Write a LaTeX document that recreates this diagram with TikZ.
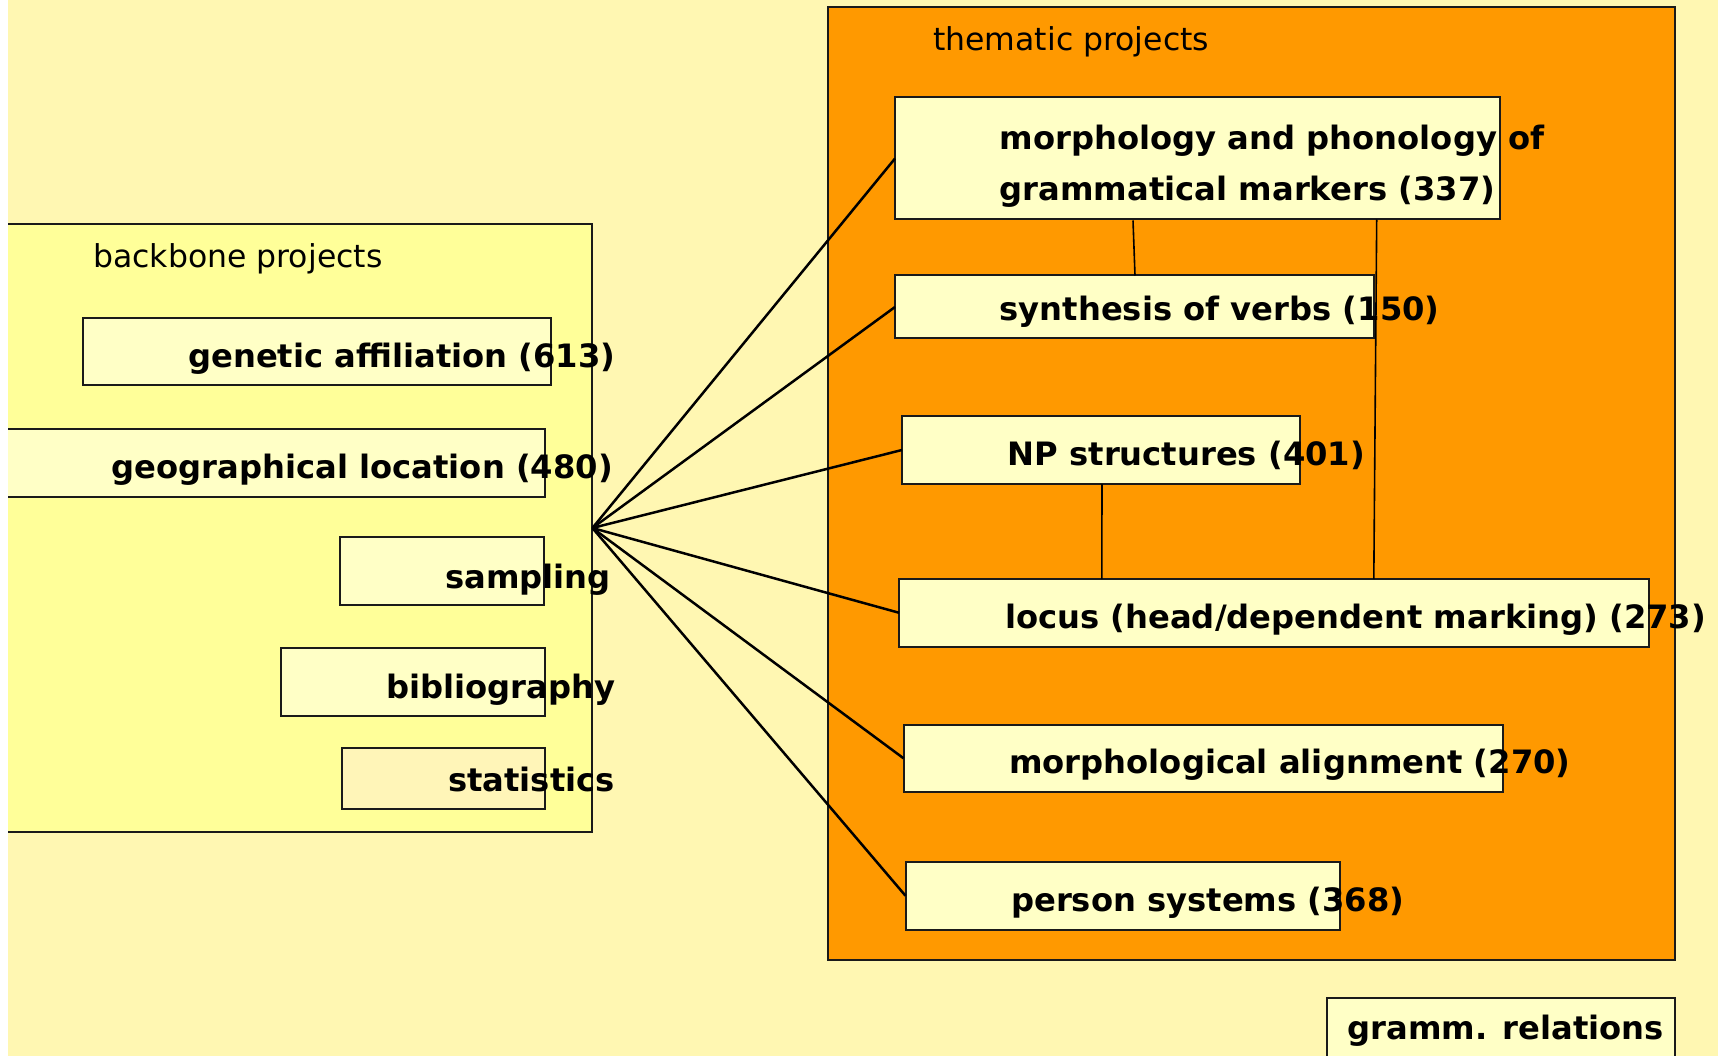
\documentclass[tikz,border=0pt]{standalone}
\usepackage{fontspec}
\setmainfont{DejaVu Sans}
\usetikzlibrary{calc}
\definecolor{bg}{HTML}{FFF7B2}
\definecolor{backfill}{HTML}{FFFF99}
\definecolor{boxfill}{HTML}{FFFFC6}
\definecolor{statfill}{HTML}{FFF5B8}
\definecolor{orangefill}{HTML}{FF9900}
\definecolor{edge}{HTML}{1A1A1A}
\begin{document}
\begin{tikzpicture}[x=1pt,y=-1pt,
  panel/.style={draw=edge, line width=2pt, inner sep=0pt, outer sep=0pt, anchor=north west},
  itembox/.style={draw=edge, line width=2pt, fill=boxfill, inner sep=0pt, outer sep=0pt, anchor=north west},
  boldtext/.style={font=\fontsize{32.2}{40}\selectfont\bfseries, inner sep=0pt, anchor=base west},
  headtext/.style={font=\fontsize{31.5}{38}\selectfont, inner sep=0pt, anchor=base west},
  spoke/.style={line width=2.5pt, draw=black},
  link/.style={line width=1.6pt, draw=black}]
\useasboundingbox (0,0) rectangle (1718,1056);
\fill[white] (0,0) rectangle (1718,1056);
\fill[bg] (8,0) rectangle (1718,1056);
\begin{scope}
\clip (8,0) rectangle (1718,1056);
% panels
\node[panel, fill=backfill, minimum width=602, minimum height=607.5] (backbone) at (-10,224.5) {};
\node[panel, fill=orangefill, minimum width=846.5, minimum height=953] (thematic) at (828,7) {};
\node[headtext] (backhead) at (93,268) {backbone projects};
\node[headtext] (themhead) at (933,51) {thematic projects};
% hub
\coordinate (hub) at (592.4,528);
% thematic boxes (positions)
\coordinate (pmorph) at (895,97.5);
\coordinate (psynth) at (895,275.5);
\coordinate (pnp) at (902,416);
\coordinate (plocus) at (899,579);
\coordinate (palign) at (903.5,724.5);
\coordinate (pperson) at (905.5,862);
\node[itembox, minimum width=605, minimum height=122] (morph) at (pmorph) {};
\node[itembox, minimum width=479, minimum height=63] (synth) at (psynth) {};
\node[itembox, minimum width=398, minimum height=68] (np) at (pnp) {};
\node[itembox, minimum width=750, minimum height=67.5] (locus) at (plocus) {};
\node[itembox, minimum width=599, minimum height=67.5] (align) at (palign) {};
\node[itembox, minimum width=434.5, minimum height=67.5] (person) at (pperson) {};
\draw[spoke] (hub) -- (morph.west);
\draw[spoke] (hub) -- (synth.west);
\draw[spoke] (hub) -- (np.west);
\draw[spoke] (hub) -- (locus.west);
\draw[spoke] (hub) -- (align.west);
\draw[spoke] (hub) -- (person.west);
\draw[link] ($(morph.south west)+(238,1)$) -- ($(synth.north west)+(240,0)$);
\draw[link] ($(morph.south west)+(481.7,0)$) -- ($(locus.north west)+(474.8,0)$);
\draw[link] ($(np.south west)+(200,0)$) -- ($(locus.north west)+(202.8,0)$);
% backbone boxes
\node[itembox, minimum width=468, minimum height=67] (genetic) at (83.3,318) {};
\node[itembox, minimum width=570, minimum height=68] (geo) at (-25,428.5) {};
\node[itembox, minimum width=204, minimum height=68] (sampling) at (339.6,537.3) {};
\node[itembox, minimum width=264.4, minimum height=67.3] (biblio) at (280.8,648.2) {};
\node[itembox, fill=statfill, minimum width=203.5, minimum height=61] (stats) at (341.7,747.7) {};
\node[itembox, minimum width=348, minimum height=80] (gramm) at (1327.4,997.5) {};
% texts
\node[boldtext] (tgenetic) at (188,367) {genetic affiliation (613)};
\node[boldtext] (tgeo) at (111.5,478) {geographical location (480)};
\node[boldtext] (tsampling) at (445,588) {sampling};
\node[boldtext] (tbiblio) at (386,698) {bibliography};
\node[boldtext] (tstats) at (448,791) {statistics};
\node[boldtext] (tmorphA) at (999.5,150) {morphology and phonology of};
\node[boldtext] (tmorphB) at (999.5,201) {grammatical markers (337)};
\node[boldtext] (tsynth) at (999.5,321) {synthesis of verbs (150)};
\node[boldtext] (tnp) at (1007.5,465) {NP structures (401)};
\node[boldtext] (tlocus) at (1005,628) {locus (head/dependent marking) (273)};
\node[boldtext] (talign) at (1009,773) {morphological alignment (270)};
\node[boldtext] (tperson) at (1011,911) {person systems (368)};
\node[boldtext] (tgramm) at (1347.5,1039) {gramm. relations};
\end{scope}
\end{tikzpicture}
\end{document}
